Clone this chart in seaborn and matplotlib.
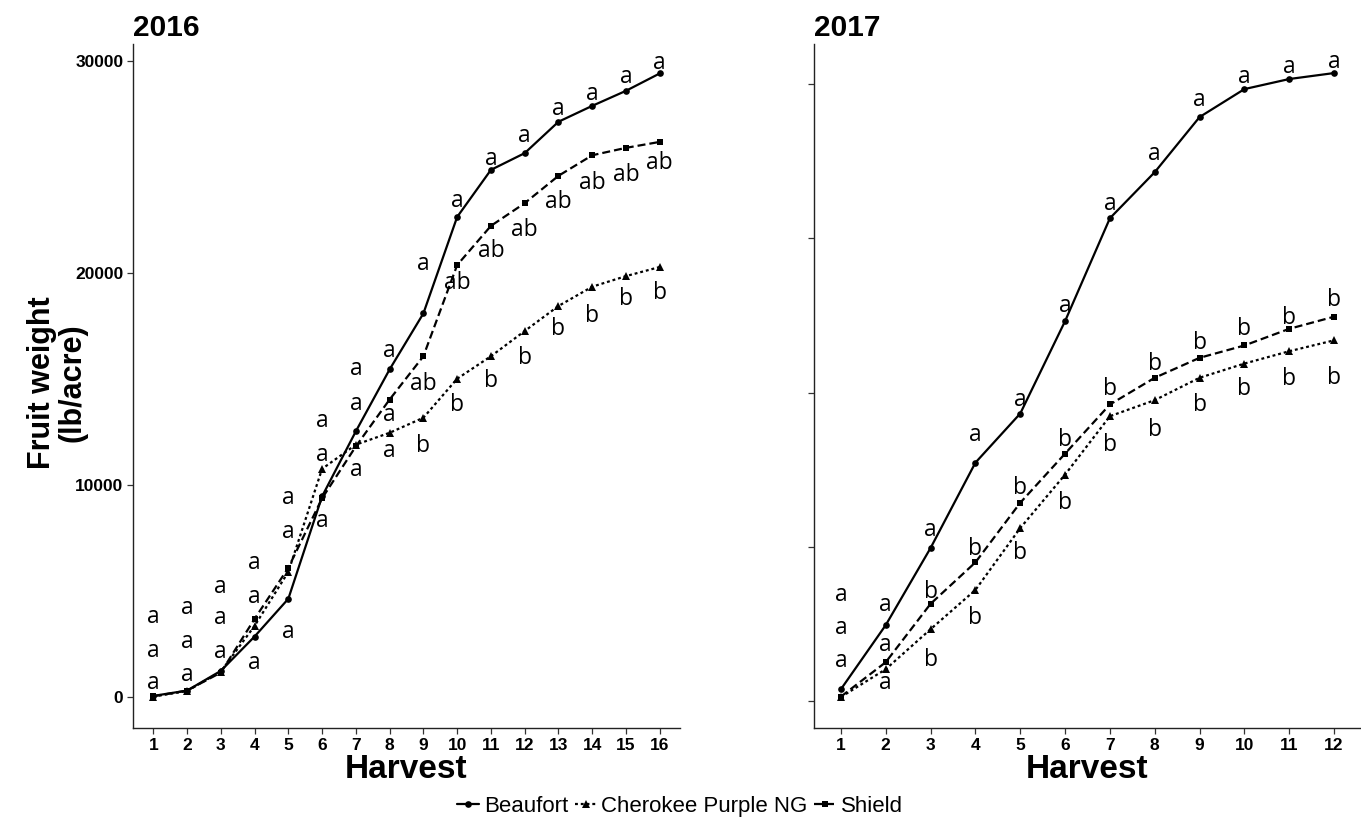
import matplotlib
matplotlib.use("Agg")
import matplotlib.pyplot as plt
from matplotlib.lines import Line2D
import numpy as np
import pandas as pd
import seaborn as sns

# ---------------- data ----------------
cultivars = ["Beaufort", "Cherokee Purple NG", "Shield"]

harvest_2016 = list(range(1, 17))
beaufort_2016 = [50, 300, 1230, 2850, 4630, 9460, 12530, 15450, 18090, 22640,
                 24860, 25650, 27130, 27880, 28590, 29410]
cherokee_2016 = [20, 280, 1200, 3350, 5900, 10760, 11900, 12460, 13170, 15010,
                 16070, 17260, 18440, 19350, 19850, 20280]
shield_2016 = [30, 300, 1150, 3680, 6090, 9370, 11820, 14030, 16070, 20370,
               22220, 23290, 24580, 25550, 25900, 26180]

harvest_2017 = list(range(1, 13))
beaufort_2017 = [570, 3690, 7440, 11590, 13980, 18475, 23480, 25720, 28400,
                 29760, 30250, 30540]
cherokee_2017 = [190, 1545, 3490, 5400, 8410, 11010, 13850, 14630, 15720,
                 16410, 17010, 17540]
shield_2017 = [210, 1885, 4725, 6740, 9640, 12030, 14420, 15720, 16690,
               17290, 18100, 18690]

# mean-separation letters and their heights
beaufort_2016_txt = ["a"] * 16
cherokee_2016_txt = ["a"] * 8 + ["b"] * 8
shield_2016_txt = ["a"] * 8 + ["ab"] * 8
beaufort_2016_ly = [661, 1039, 2126, 1606, 3070, 11431, 15446, 16311, 20406,
                    23397, 25390, 26467, 27728, 28437, 29226, 29900]
cherokee_2016_ly = [3779, 4204, 5196, 6330, 9400, 13037, 13840, 11587, 11823,
                    13793, 14894, 15999, 17336, 17964, 18753, 19070]
shield_2016_ly = [2173, 2598, 3732, 4724, 7794, 8281, 10690, 13321, 14738,
                  19542, 21035, 22027, 23335, 24232, 24610, 25170]

beaufort_2017_txt = ["a"] * 12
cherokee_2017_txt = ["a"] * 2 + ["b"] * 10
shield_2017_txt = ["a"] * 2 + ["b"] * 10
beaufort_2017_ly = [5163, 4676, 8329, 12957, 14661, 19206, 24160, 26595,
                    29225, 30346, 30833, 31076]
cherokee_2017_ly = [1948, 862, 1997, 4028, 7194, 9645, 12470, 13200, 14418,
                    15149, 15636, 15719]
shield_2017_ly = [3570, 2728, 5324, 7389, 10375, 12713, 15149, 16366, 17423,
                  18105, 18641, 19498]

years = ["2016", "2017"]
yticks_2016 = [0, 10000, 20000, 30000]
yticks_2017 = [0, 7500, 15000, 22500, 30000]

# ---------------- styling ----------------
sns.set_theme(style="white")
plt.rcParams["font.family"] = ["Liberation Sans", "DejaVu Sans"]
plt.rcParams["text.color"] = "black"
plt.rcParams["axes.labelcolor"] = "black"
plt.rcParams["axes.titlecolor"] = "black"

markers = {"Beaufort": "o", "Cherokee Purple NG": "^", "Shield": "s"}
dashes = {"Beaufort": "", "Cherokee Purple NG": (1.3, 1.3), "Shield": (3.6, 1.8)}
msize = {"o": 4.8, "^": 5.8, "s": 4.8}
LW = 1.6

fig = plt.figure(figsize=(13.61, 8.21), dpi=100)
ax1 = fig.add_axes([133 / 1361, 93 / 821, 547 / 1361, 684 / 821])
ax2 = fig.add_axes([814 / 1361, 93 / 821, 547 / 1361, 684 / 821])


def long_df(h, b, c, s):
    return pd.DataFrame({
        "Harvest": list(h) * 3,
        "Weight": list(b) + list(c) + list(s),
        "Cultivar": [cultivars[0]] * len(h) + [cultivars[1]] * len(h) + [cultivars[2]] * len(h),
    })


panels = [
    (ax1, harvest_2016, (beaufort_2016, cherokee_2016, shield_2016),
     (beaufort_2016_ly, cherokee_2016_ly, shield_2016_ly),
     (beaufort_2016_txt, cherokee_2016_txt, shield_2016_txt), yticks_2016,
     (-1464, 30798), years[0], True),
    (ax2, harvest_2017, (beaufort_2017, cherokee_2017, shield_2017),
     (beaufort_2017_ly, cherokee_2017_ly, shield_2017_ly),
     (beaufort_2017_txt, cherokee_2017_txt, shield_2017_txt), yticks_2017,
     (-1315, 31953), years[1], False),
]

for ax, h, vals, lys, txts, yt, ylim, yr, showy in panels:
    df = long_df(h, *vals)
    sns.lineplot(data=df, x="Harvest", y="Weight", style="Cultivar",
                 style_order=cultivars, markers=markers, dashes=dashes,
                 color="black", linewidth=LW, markeredgewidth=0,
                 legend=False, ax=ax)
    for ln in ax.lines:
        m = ln.get_marker()
        if m in msize:
            ln.set_markersize(msize[m])
    for ly, tx in zip(lys, txts):
        for xi, yi, t in zip(h, ly, tx):
            ax.text(xi, yi, t, ha="center", va="center", fontsize=16.5,
                    family=["Open Sans", "DejaVu Sans"], color="black")
    ax.set_xlim(0.4, len(h) + 0.6)
    ax.set_ylim(*ylim)
    ax.set_xticks(h)
    ax.set_xticklabels([str(i) for i in h], fontsize=12.5, fontweight="bold")
    ax.set_yticks(yt)
    if showy:
        ax.set_yticklabels([str(v) for v in yt], fontsize=12.5, fontweight="bold")
    else:
        ax.set_yticklabels([])
    for sp in ["top", "right"]:
        ax.spines[sp].set_visible(False)
    for sp in ["left", "bottom"]:
        ax.spines[sp].set_color("#222222")
        ax.spines[sp].set_linewidth(1.0)
    ax.tick_params(axis="both", which="both", length=4, width=0.9,
                   color="#333333", labelcolor="black", pad=3,
                   bottom=True, left=True)
    ax.set_xlabel("Harvest", fontsize=24, fontweight="bold", labelpad=1)
    ax.set_ylabel("")
    ax.set_title(yr, loc="left", fontsize=21.5, fontweight="bold", pad=6)
    ax.grid(False)

fig.text(57 / 1361, 1 - 383 / 821, "Fruit weight\n(lb/acre)", rotation=90,
         ha="center", va="center", fontsize=22, fontweight="bold",
         linespacing=1.02)

handles = []
for c in cultivars:
    hd = Line2D([0], [0], color="black", lw=LW, marker=markers[c],
                markersize=msize[markers[c]], markeredgewidth=0)
    if dashes[c]:
        hd.set_dashes(dashes[c])
    handles.append(hd)
fig.legend(handles, cultivars, loc="center", bbox_to_anchor=(680 / 1361, 1 - 806 / 821),
           ncol=3, frameon=False, fontsize=16, handlelength=1.0,
           handletextpad=0.2, columnspacing=0.3, borderpad=0)

fig.savefig("out.png", dpi=100)
